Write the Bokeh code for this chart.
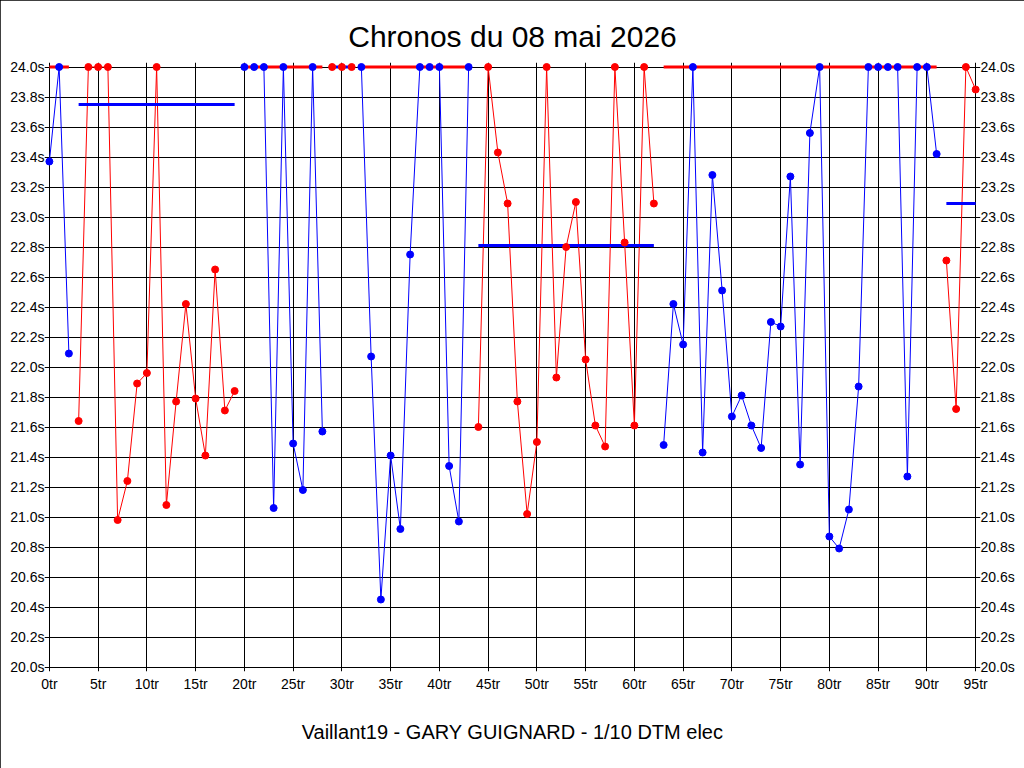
from bokeh.plotting import figure
from bokeh.models import Range1d, LinearAxis, FixedTicker, PrintfTickFormatter, Title
from bokeh.embed import file_html
from bokeh.resources import INLINE

# ---- data ----
laps = list(range(96))
times = [23.37, 24.0, 22.09, 21.64, 24.0, 24.0, 24.0, 20.98, 21.24, 21.89,
         21.96, 24.0, 21.08, 21.77, 22.42, 21.79, 21.41, 22.65, 21.71, 21.84,
         24.0, 24.0, 24.0, 21.06, 24.0, 21.49, 21.18, 24.0, 21.57, 24.0,
         24.0, 24.0, 24.0, 22.07, 20.45, 21.41, 20.92, 22.75, 24.0, 24.0,
         24.0, 21.34, 20.97, 24.0, 21.60, 24.0, 23.43, 23.09, 21.77, 21.02,
         21.50, 24.0, 21.93, 22.80, 23.10, 22.05, 21.61, 21.47, 24.0, 22.83,
         21.61, 24.0, 23.09, 21.48, 22.42, 22.15, 24.0, 21.43, 23.28, 22.51,
         21.67, 21.81, 21.61, 21.46, 22.30, 22.27, 23.27, 21.35, 23.56, 24.0,
         20.87, 20.79, 21.05, 21.87, 24.0, 24.0, 24.0, 24.0, 21.27, 24.0,
         24.0, 23.42, 22.71, 21.72, 24.0, 23.85]

run_start = [0, 3, 20, 29, 32, 44, 63, 92]
run_end = [2, 19, 28, 31, 43, 62, 91, 95]
run_color = ["#0000FF", "#FF0000", "#0000FF", "#FF0000", "#0000FF", "#FF0000", "#0000FF", "#FF0000"]
avg_color = ["#FF0000", "#0000FF", "#FF0000", "#0000FF", "#FF0000", "#0000FF", "#FF0000", "#0000FF"]
run_avg = [24.0, 23.75, 24.0, 24.0, 24.0, 22.81, 24.0, 23.09]

x_ticks = [0, 5, 10, 15, 20, 25, 30, 35, 40, 45, 50, 55, 60, 65, 70, 75, 80, 85, 90, 95]
y_ticks = [20.0, 20.2, 20.4, 20.6, 20.8, 21.0, 21.2, 21.4, 21.6, 21.8, 22.0,
           22.2, 22.4, 22.6, 22.8, 23.0, 23.2, 23.4, 23.6, 23.8, 24.0]

title_text = "Chronos du 08 mai 2026"
footer_text = "Vaillant19 - GARY GUIGNARD - 1/10 DTM elec"

FONT = "Liberation Sans"

p = figure(frame_width=936, frame_height=609,
           x_range=Range1d(-0.5, 95.5), y_range=Range1d(19.97, 24.03),
           output_backend="svg", toolbar_location=None,
           min_border_left=44, min_border_right=44,
           min_border_top=62, min_border_bottom=97,
           background_fill_color="white", border_fill_color="white",
           styles={"outline": "1px solid black", "outline-offset": "-1px"})
p.outline_line_color = None

p.title.text = title_text
p.title.text_font = FONT
p.title.text_font_size = "30px"
p.title.text_font_style = "normal"
p.title.text_color = "black"
p.title.align = "center"
p.title.standoff = 20

p.add_layout(Title(text=footer_text, text_font=FONT, text_font_size="20px",
                   text_font_style="normal", text_color="black",
                   align="center", standoff=49), "below")

xt = FixedTicker(ticks=x_ticks)
yt = FixedTicker(ticks=y_ticks)

def style_axis(ax, standoff):
    ax.axis_line_color = None
    ax.major_tick_line_color = None
    ax.minor_tick_line_color = None
    ax.major_tick_out = 0
    ax.major_tick_in = 0
    ax.minor_tick_out = 0
    ax.minor_tick_in = 0
    ax.major_label_text_font = FONT
    ax.major_label_text_font_size = "14px"
    ax.major_label_text_color = "black"
    ax.major_label_standoff = standoff

p.xaxis.ticker = xt
p.xaxis.formatter = PrintfTickFormatter(format="%dtr")
style_axis(p.xaxis[0], 4)

p.yaxis.ticker = yt
p.yaxis.formatter = PrintfTickFormatter(format="%.1fs")
style_axis(p.yaxis[0], 0)

ry = LinearAxis(ticker=yt, formatter=PrintfTickFormatter(format="%.1fs"))
style_axis(ry, 0)
p.add_layout(ry, "right")

p.xgrid.ticker = xt
p.ygrid.ticker = yt
for g in (p.xgrid[0], p.ygrid[0]):
    g.grid_line_color = "black"
    g.grid_line_alpha = 1.0
    g.grid_line_width = 1
p.xgrid[0].bounds = (y_ticks[0], y_ticks[-1])
p.ygrid[0].bounds = (x_ticks[0], x_ticks[-1])

# thin lap lines per run
for s, e, c in zip(run_start, run_end, run_color):
    p.line(laps[s:e + 1], times[s:e + 1], line_color=c, line_width=1)

# average lines per run
for s, e, a, c in zip(run_start, run_end, run_avg, avg_color):
    p.line([laps[s], laps[e]], [a, a], line_color=c, line_width=3)

# points
pt_colors = []
for s, e, c in zip(run_start, run_end, run_color):
    pt_colors += [c] * (e - s + 1)
p.scatter(laps, times, size=7, fill_color=pt_colors, line_color=pt_colors, marker="circle")

open("out.html", "w").write(file_html(p, INLINE))
